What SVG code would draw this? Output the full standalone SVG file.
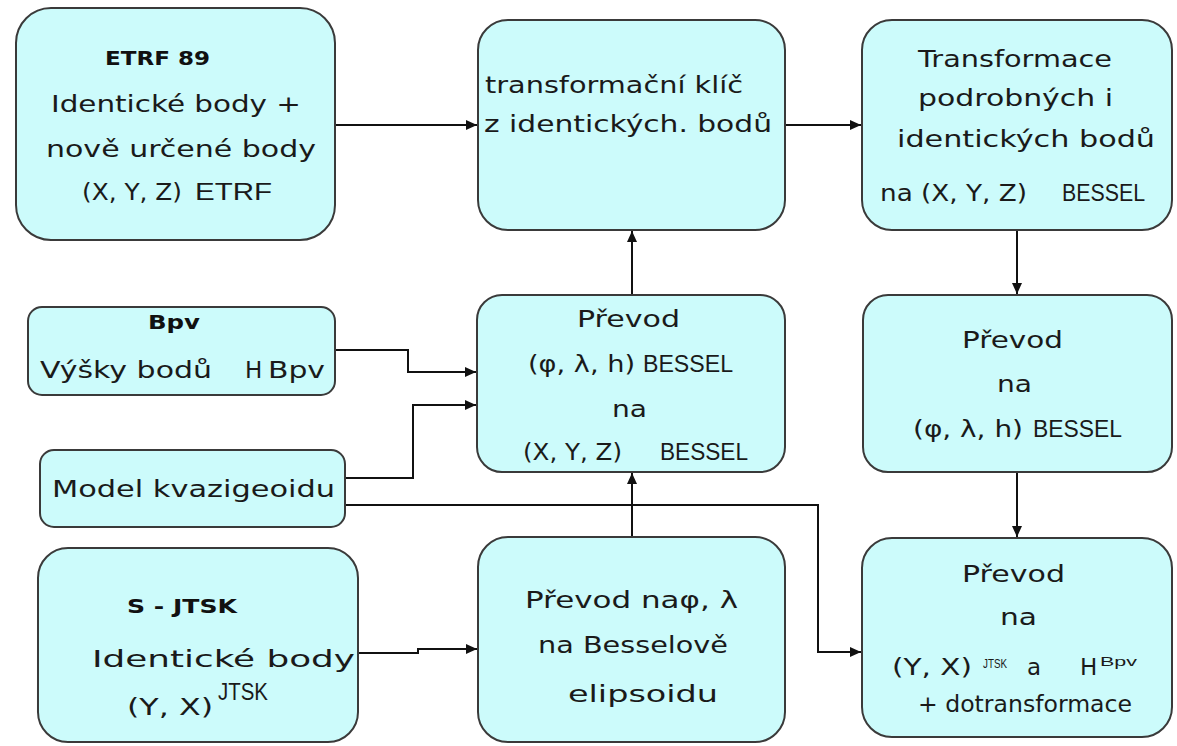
<svg xmlns="http://www.w3.org/2000/svg" width="1177" height="746" viewBox="0 0 1177 746">
<defs>
<marker id="ah" markerUnits="userSpaceOnUse" markerWidth="12" markerHeight="10" refX="11" refY="5" orient="auto">
<path d="M0,0 L11,5 L0,10 Z" fill="#111"/>
</marker>
<style>
.box{fill:#ccfbfb;stroke:#3a3a3a;stroke-width:2}
.t{font-family:"DejaVu Sans","Liberation Sans",sans-serif;font-size:23px;fill:#1a1a1a}
.b{font-family:"DejaVu Sans","Liberation Sans",sans-serif;font-size:19px;font-weight:bold;fill:#111}
.a{font-family:"Liberation Sans",Arial,sans-serif;font-size:23px;fill:#1a1a1a}
.s{font-family:"Liberation Sans",Arial,sans-serif;font-size:12px;fill:#1a1a1a}
.c{fill:none;stroke:#111;stroke-width:2;marker-end:url(#ah)}
</style>
</defs>
<rect width="1177" height="746" fill="#fff"/>
<g id="connectors">
<path class="c" d="M335,125 H477"/>
<path class="c" d="M785,125 H861"/>
<path class="c" d="M1017,230 V294"/>
<path class="c" d="M1017,472 V537"/>
<path class="c" d="M632,295 V231"/>
<path class="c" d="M632,537 V473"/>
<path class="c" d="M335,350 H408 V372 H476"/>
<path class="c" d="M345,478 H413 V405 H476"/>
<path class="c" d="M345,505 H818 V652 H861"/>
<path class="c" d="M358,653 H418 V649 H477"/>
</g>
<g id="etrf">
<rect class="box" x="16" y="8" width="319" height="232" rx="35"/>
<text class="b" x="105" y="65" font-size="20" textLength="105" lengthAdjust="spacingAndGlyphs">ETRF  89</text>
<text class="t" x="51" y="112" textLength="250" lengthAdjust="spacingAndGlyphs">Identické body +</text>
<text class="t" x="46" y="157" textLength="270" lengthAdjust="spacingAndGlyphs">nově určené body</text>
<text class="t" x="82" y="200" textLength="100" lengthAdjust="spacingAndGlyphs">(X, Y, Z)</text>
<text class="a" x="195" y="200" textLength="77" lengthAdjust="spacingAndGlyphs">ETRF</text>
</g>
<g id="klic">
<rect class="box" x="478" y="20" width="307" height="210" rx="30"/>
<text class="t" x="485" y="93" textLength="258" lengthAdjust="spacingAndGlyphs">transformační klíč</text>
<text class="t" x="484" y="132" textLength="288" lengthAdjust="spacingAndGlyphs">z identických. bodů</text>
</g>
<g id="transformace">
<rect class="box" x="862" y="20" width="310" height="210" rx="30"/>
<text class="t" x="918" y="67" textLength="194" lengthAdjust="spacingAndGlyphs">Transformace</text>
<text class="t" x="918" y="106" textLength="195" lengthAdjust="spacingAndGlyphs">podrobných i</text>
<text class="t" x="897" y="147" textLength="258" lengthAdjust="spacingAndGlyphs">identických bodů</text>
<text class="t" x="880" y="201" textLength="147" lengthAdjust="spacingAndGlyphs">na (X, Y, Z)</text>
<text class="a" x="1062" y="201" textLength="83" lengthAdjust="spacingAndGlyphs">BESSEL</text>
</g>
<g id="bpv">
<rect class="box" x="28" y="307" width="307" height="88" rx="14"/>
<text class="b" x="148" y="329" font-size="21" textLength="52" lengthAdjust="spacingAndGlyphs">Bpv</text>
<text class="t" x="40" y="378" textLength="172" lengthAdjust="spacingAndGlyphs">Výšky bodů</text>
<text class="t" x="245" y="378">H</text>
<text class="t" x="268" y="378" textLength="57" lengthAdjust="spacingAndGlyphs">Bpv</text>
</g>
<g id="kvazigeoid">
<rect class="box" x="40" y="450" width="305" height="77" rx="14"/>
<text class="t" x="52" y="497" textLength="283" lengthAdjust="spacingAndGlyphs">Model kvazigeoidu</text>
</g>
<g id="prevod-xyz">
<rect class="box" x="477" y="295" width="308" height="177" rx="25"/>
<text class="t" x="577" y="327" textLength="103" lengthAdjust="spacingAndGlyphs">Převod</text>
<text class="t" x="528" y="372" textLength="107" lengthAdjust="spacingAndGlyphs">(φ, λ, h)</text>
<text class="a" x="643" y="372" textLength="90" lengthAdjust="spacingAndGlyphs">BESSEL</text>
<text class="t" x="612" y="417" textLength="35" lengthAdjust="spacingAndGlyphs">na</text>
<text class="t" x="523" y="460" textLength="99" lengthAdjust="spacingAndGlyphs">(X, Y, Z)</text>
<text class="a" x="660" y="460" textLength="88" lengthAdjust="spacingAndGlyphs">BESSEL</text>
</g>
<g id="prevod-blh">
<rect class="box" x="863" y="295" width="309" height="177" rx="25"/>
<text class="t" x="962" y="348" textLength="101" lengthAdjust="spacingAndGlyphs">Převod</text>
<text class="t" x="997" y="392" textLength="35" lengthAdjust="spacingAndGlyphs">na</text>
<text class="t" x="913" y="437" textLength="110" lengthAdjust="spacingAndGlyphs">(φ, λ, h)</text>
<text class="a" x="1033" y="437" textLength="89" lengthAdjust="spacingAndGlyphs">BESSEL</text>
</g>
<g id="prevod-elipsoid">
<rect class="box" x="478" y="537" width="307" height="205" rx="30"/>
<text class="t" x="525" y="608" textLength="213" lengthAdjust="spacingAndGlyphs">Převod naφ, λ</text>
<text class="t" x="538" y="653" textLength="190" lengthAdjust="spacingAndGlyphs">na Besselově</text>
<text class="t" x="568" y="702" font-size="27" textLength="150" lengthAdjust="spacingAndGlyphs">elipsoidu</text>
</g>
<g id="prevod-jtsk">
<rect class="box" x="862" y="538" width="310" height="199" rx="30"/>
<text class="t" x="962" y="582" textLength="103" lengthAdjust="spacingAndGlyphs">Převod</text>
<text class="t" x="1000" y="625" textLength="37" lengthAdjust="spacingAndGlyphs">na</text>
<text class="t" x="892" y="675" textLength="80" lengthAdjust="spacingAndGlyphs">(Y, X)</text>
<text class="s" x="983" y="668" font-size="11" textLength="24" lengthAdjust="spacingAndGlyphs">JTSK</text>
<text class="t" x="1027" y="675" font-size="24">a</text>
<text class="t" x="1080" y="675" font-size="28">H</text>
<text class="s" x="1100" y="666" font-size="12" textLength="37" lengthAdjust="spacingAndGlyphs">Bpv</text>
<text class="t" x="918" y="712" font-size="19" textLength="214" lengthAdjust="spacingAndGlyphs">+ dotransformace</text>
</g>
<g id="sjtsk">
<rect class="box" x="38" y="548" width="320" height="194" rx="30"/>
<text class="b" x="127" y="613" textLength="110" lengthAdjust="spacingAndGlyphs">S  - JTSK</text>
<text class="t" x="92" y="667" font-size="29" textLength="263" lengthAdjust="spacingAndGlyphs">Identické body</text>
<text class="t" x="127" y="715" font-size="29" textLength="86" lengthAdjust="spacingAndGlyphs">(Y, X)</text>
<text class="a" x="218" y="700" font-size="15" textLength="50" lengthAdjust="spacingAndGlyphs">JTSK</text>
</g>
</svg>
